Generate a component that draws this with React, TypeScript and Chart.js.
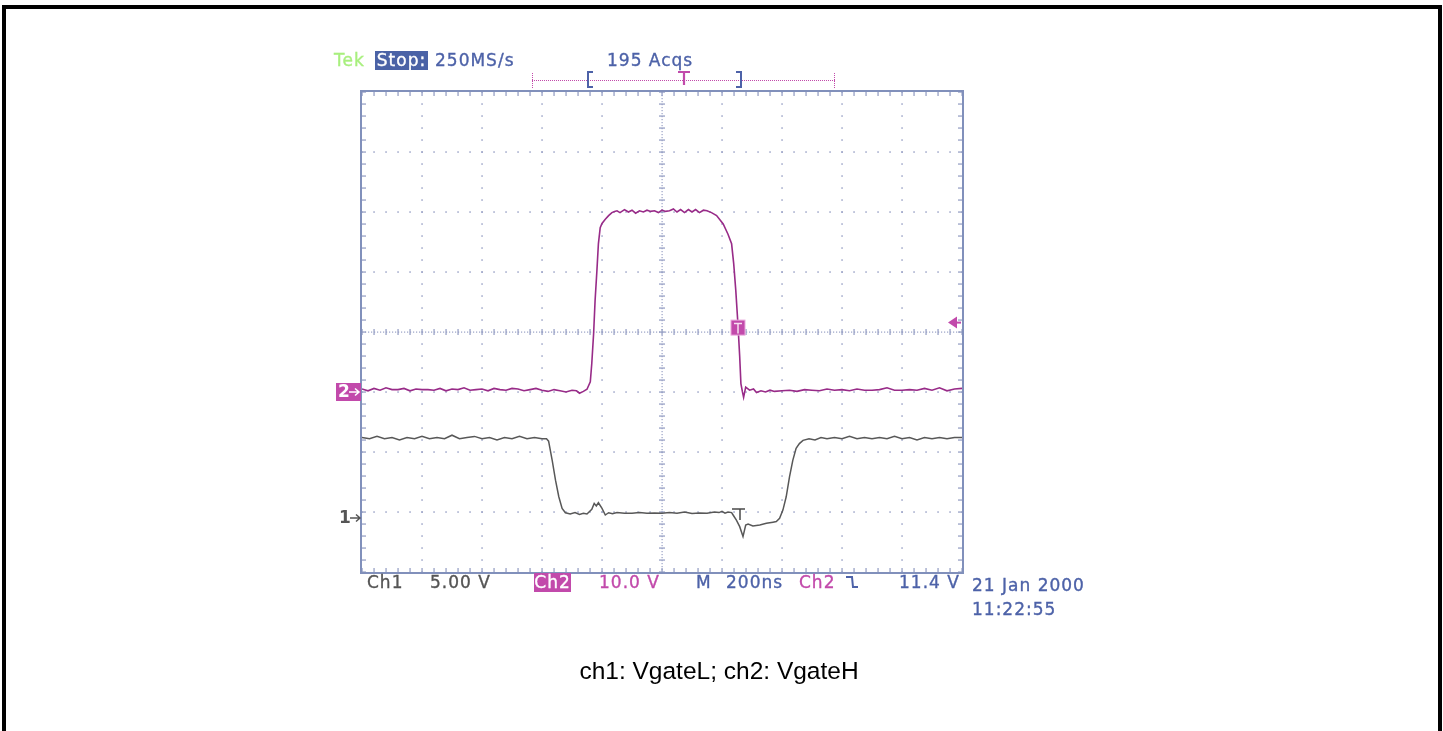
import React, { useEffect, useRef } from "react";
import { Chart, registerables } from "chart.js";

Chart.register(...registerables);

// ---- scope settings ----
const TIME_PER_DIV = 200; // ns
const H_DIVS = 10;
const V_DIVS = 8;
const CH1_VOLTS_PER_DIV = 5;
const CH1_GROUND_DIV = -3.1;
const CH2_VOLTS_PER_DIV = 10;
const CH2_GROUND_DIV = -1;
const TRIGGER_TIME = 250; // ns
const TRIGGER_LEVEL = 11.4; // V

// ---- Ch1 (VgateL) ----
const CH1_TIME = [
  -1000, -975, -950, -925, -900, -875, -850, -825, -800, -775, -750, -725, -700, -675, -650, -625, -600, -575, -550, -525,
  -500, -475, -450, -425, -400, -385, -378, -366, -355, -344, -333, -322, -306, -290, -275, -262, -250, -234, -226, -219,
  -212, -200, -189, -178, -165, -150, -125, -100, -75, -50, -25, 0, 25, 50, 75, 100, 125, 150, 175, 190,
  200, 210, 220, 232, 237, 248, 259, 270, 279, 287, 303, 326, 348, 370, 381, 392, 403, 414, 425, 436,
  447, 458, 470, 490, 510, 530, 550, 575, 600, 625, 650, 675, 700, 725, 750, 775, 800, 825, 850, 875,
  900, 925, 950, 975, 1000,
];
const CH1_VOLTS = [
  6.7, 6.6, 6.8, 6.6, 6.7, 6.5, 6.7, 6.6, 6.8, 6.6, 6.7, 6.6, 6.9, 6.6, 6.7, 6.8, 6.6, 6.7, 6.5, 6.7,
  6.6, 6.8, 6.6, 6.7, 6.6, 6.6, 6.4, 4.8, 3.15, 1.77, 0.8, 0.44, 0.33, 0.45, 0.3, 0.4, 0.33, 0.72, 1.22, 1.0,
  1.27, 0.8, 0.25, 0.44, 0.35, 0.45, 0.4, 0.4, 0.45, 0.4, 0.42, 0.4, 0.45, 0.4, 0.5, 0.38, 0.42, 0.4, 0.5, 0.45,
  0.55, 0.4, 0.5, 0.45, 0.25, -0.17, -0.72, -1.55, -0.58, -0.5, -0.66, -0.58, -0.44, -0.35, -0.3, -0.03, 0.66, 1.77, 3.43, 4.8,
  5.8, 6.2, 6.47, 6.6, 6.5, 6.7, 6.6, 6.7, 6.6, 6.8, 6.6, 6.7, 6.6, 6.7, 6.6, 6.8, 6.6, 6.7, 6.5, 6.7,
  6.6, 6.7, 6.6, 6.7, 6.7,
];

// ---- Ch2 (VgateH) ----
const CH2_TIME = [
  -1000, -980, -960, -940, -920, -900, -880, -860, -840, -820, -800, -780, -760, -740, -720, -700, -680, -660, -640, -620,
  -600, -580, -560, -540, -520, -500, -480, -460, -440, -420, -400, -380, -360, -340, -320, -300, -285, -275, -262, -250,
  -239, -234, -228, -223, -217, -212, -206, -200, -189, -178, -167, -158, -150, -140, -125, -112, -100, -88, -75, -62,
  -50, -38, -25, -12, 0, 12, 25, 38, 50, 62, 75, 88, 100, 112, 125, 138, 150, 165, 182, 204,
  220, 232, 239, 246, 253, 259, 263, 268, 272, 279, 292, 305, 315, 330, 345, 360, 375, 400, 425, 450,
  475, 500, 525, 550, 575, 600, 625, 650, 675, 700, 725, 750, 775, 800, 825, 850, 875, 900, 925, 950,
  975, 1000,
];
const CH2_VOLTS = [
  0.5, 0.2, 0.6, 0.3, 0.7, 0.4, 0.4, 0.6, 0.2, 0.5, 0.4, 0.4, 0.3, 0.6, 0.2, 0.5, 0.4, 0.7, 0.3, 0.4,
  0.5, 0.2, 0.6, 0.4, 0.3, 0.6, 0.5, 0.2, 0.4, 0.6, 0.3, 0.1, 0.4, 0.2, 0.0, 0.3, 0.2, -0.2, 0.1, 0.45,
  1.7, 4.8, 9.7, 15.3, 20.2, 24.7, 27.4, 28.1, 28.8, 29.4, 29.9, 30.1, 30.2, 29.9, 30.4, 30.0, 30.3, 29.8, 30.2, 30.0,
  30.3, 30.1, 30.2, 29.9, 30.3, 30.1, 30.2, 30.5, 30.0, 30.4, 29.9, 30.4, 30.0, 30.4, 29.9, 30.3, 30.2, 29.9, 29.4, 28.0,
  26.3, 24.7, 21.4, 16.9, 11.4, 5.9, 1.4, 0.05, -0.9, 0.8, 0.3, 0.5, -0.1, 0.2, 0.0, 0.3, 0.1, 0.2, 0.3, 0.1,
  0.4, 0.3, 0.2, 0.5, 0.3, 0.4, 0.2, 0.5, 0.3, 0.3, 0.4, 0.7, 0.3, 0.3, 0.4, 0.3, 0.6, 0.3, 0.7, 0.2,
  0.5, 0.6,
];

// ---- colours ----
const CH1_COLOR = "#585858";
const CH2_COLOR = "#982b88";
const MAGENTA = "#c24aab";
const BLUE = "#4d62a8";
const GRID_COLOR = "#99a2c6";
const BORDER_COLOR = "#8190bb";

const SCOPE_FONT = "'DejaVu Sans', sans-serif";

function drawArrow(ctx: any, x0: number, x1: number, y: number) {
  ctx.beginPath();
  ctx.moveTo(x0, y);
  ctx.lineTo(x1 - 1, y);
  ctx.moveTo(x1 - 4, y - 3.5);
  ctx.lineTo(x1, y);
  ctx.lineTo(x1 - 4, y + 3.5);
  ctx.stroke();
}

const scopePlugin = {
  id: "scopeDecor",
  beforeDatasetsDraw(chart: any) {
    const { ctx, chartArea } = chart;
    const { left, top, right, bottom } = chartArea;
    const dx = (right - left) / H_DIVS;
    const dy = (bottom - top) / V_DIVS;
    const mx = dx / 5;
    const my = dy / 5;
    const cx = left + (dx * H_DIVS) / 2;
    const cy = top + (dy * V_DIVS) / 2;
    ctx.save();
    ctx.fillStyle = GRID_COLOR;
    const dot = (x: number, y: number) => ctx.fillRect(x - 0.6, y - 0.8, 1.3, 1.7);
    // major grid lines as dots
    for (let i = 1; i < H_DIVS; i++) {
      if (i === H_DIVS / 2) continue;
      const x = left + i * dx;
      for (let k = 0; k <= V_DIVS * 5; k++) dot(x, top + k * my);
    }
    for (let j = 1; j < V_DIVS; j++) {
      if (j === V_DIVS / 2) continue;
      const y = top + j * dy;
      for (let k = 0; k <= H_DIVS * 5; k++) dot(left + k * mx, y);
    }
    // centre cross (dotted with ticks)
    for (let y = top; y <= bottom; y += 3) ctx.fillRect(cx - 0.5, y, 1.2, 1.2);
    for (let x = left; x <= right; x += 3) ctx.fillRect(x, cy - 0.5, 1.2, 1.2);
    for (let k = 0; k <= H_DIVS * 5; k++) ctx.fillRect(left + k * mx - 0.6, cy - 3, 1.3, 6);
    for (let k = 0; k <= V_DIVS * 5; k++) ctx.fillRect(cx - 3, top + k * my - 0.6, 6, 1.3);
    // border ticks
    for (let k = 0; k <= H_DIVS * 5; k++) {
      const x = left + k * mx;
      ctx.fillRect(x - 0.6, top, 1.3, 4);
      ctx.fillRect(x - 0.6, bottom - 4, 1.3, 4);
    }
    for (let k = 0; k <= V_DIVS * 5; k++) {
      const y = top + k * my;
      ctx.fillRect(left, y - 0.6, 4, 1.3);
      ctx.fillRect(right - 4, y - 0.6, 4, 1.3);
    }
    // screen border
    ctx.strokeStyle = BORDER_COLOR;
    ctx.lineWidth = 2;
    ctx.strokeRect(left - 1, top - 1, right - left + 2, bottom - top + 2);

    // record-length bar above the screen
    ctx.fillStyle = MAGENTA;
    const barY = top - 12;
    const barL = left + 170;
    const barR = left + 472;
    for (let x = barL; x <= barR; x += 2) ctx.fillRect(x, barY, 1, 1);
    for (let y = barY - 7; y <= barY + 7; y += 2) {
      ctx.fillRect(barL, y, 1, 1);
      ctx.fillRect(barR, y, 1, 1);
    }
    ctx.strokeStyle = BLUE;
    ctx.lineWidth = 2;
    ctx.beginPath();
    ctx.moveTo(left + 231, barY - 8);
    ctx.lineTo(left + 226, barY - 8);
    ctx.lineTo(left + 226, barY + 7);
    ctx.lineTo(left + 231, barY + 7);
    ctx.moveTo(left + 374, barY - 8);
    ctx.lineTo(left + 379, barY - 8);
    ctx.lineTo(left + 379, barY + 7);
    ctx.lineTo(left + 374, barY + 7);
    ctx.stroke();
    ctx.strokeStyle = MAGENTA;
    ctx.lineWidth = 2.2;
    ctx.beginPath();
    ctx.moveTo(left + 316, barY - 8);
    ctx.lineTo(left + 328, barY - 8);
    ctx.moveTo(left + 322, barY - 8);
    ctx.lineTo(left + 322, barY + 5);
    ctx.stroke();

    // trigger slope symbol in the readout line
    ctx.strokeStyle = BLUE;
    ctx.lineWidth = 2;
    ctx.beginPath();
    ctx.moveTo(left + 484, bottom + 5);
    ctx.lineTo(left + 490, bottom + 5);
    ctx.lineTo(left + 491, bottom + 15);
    ctx.lineTo(left + 496, bottom + 15);
    ctx.stroke();
    ctx.restore();
  },
  afterDatasetsDraw(chart: any) {
    const { ctx, chartArea, scales } = chart;
    const { left, right } = chartArea;
    const xs = scales.x;
    const y1 = scales.y1;
    const y2 = scales.y2;
    ctx.save();
    ctx.font = `bold 17px ${SCOPE_FONT}`;
    ctx.textBaseline = "middle";
    ctx.lineWidth = 1.5;
    // channel ground markers
    const g1 = y1.getPixelForValue(0);
    ctx.fillStyle = "#555555";
    ctx.strokeStyle = "#555555";
    ctx.fillText("1", left - 23, g1 + 1);
    drawArrow(ctx, left - 12, left - 2, g1);
    const g2 = y2.getPixelForValue(0);
    ctx.fillStyle = MAGENTA;
    ctx.fillRect(left - 26, g2 - 9, 25, 18);
    ctx.fillStyle = "#ffffff";
    ctx.strokeStyle = "#ffffff";
    ctx.fillText("2", left - 24, g2 + 1);
    drawArrow(ctx, left - 13, left - 3, g2);

    // trigger marker on ch2
    const tx = xs.getPixelForValue(TRIGGER_TIME) + 1;
    const ty = y2.getPixelForValue(TRIGGER_LEVEL) + 4;
    ctx.fillStyle = MAGENTA;
    ctx.fillRect(tx - 7, ty - 7.5, 14, 15);
    ctx.strokeStyle = "#e9a8dc";
    ctx.lineWidth = 1;
    ctx.strokeRect(tx - 7, ty - 7.5, 14, 15);
    ctx.strokeStyle = "#f6e0f0";
    ctx.lineWidth = 1.5;
    ctx.beginPath();
    ctx.moveTo(tx - 4, ty - 4);
    ctx.lineTo(tx + 4, ty - 4);
    ctx.moveTo(tx, ty - 4);
    ctx.lineTo(tx, ty + 6);
    ctx.stroke();

    // trigger marker on ch1 trace
    const t1y = y1.getPixelForValue(0.75);
    ctx.strokeStyle = "#4a4a4a";
    ctx.lineWidth = 1.5;
    ctx.beginPath();
    ctx.moveTo(tx - 6, t1y);
    ctx.lineTo(tx + 7, t1y);
    ctx.moveTo(tx + 2, t1y);
    ctx.lineTo(tx + 2, t1y + 11);
    ctx.stroke();

    // trigger level arrow at right edge
    const ly = y2.getPixelForValue(TRIGGER_LEVEL) - 1;
    ctx.fillStyle = MAGENTA;
    ctx.beginPath();
    ctx.moveTo(right - 14, ly);
    ctx.lineTo(right - 5, ly - 6);
    ctx.lineTo(right - 5, ly + 6);
    ctx.closePath();
    ctx.fill();
    ctx.fillRect(right - 7, ly - 1, 6, 2);
    ctx.restore();
  },
};

function Label(props: { x: number; base: number; color: string; children: any; bg?: string; w?: number }) {
  const { x, base, color, children, bg, w } = props;
  const common: any = {
    position: "absolute",
    left: x,
    color,
    font: `17px ${SCOPE_FONT}`,
    letterSpacing: "1px",
    whiteSpace: "nowrap",
    WebkitTextStroke: `0.35px ${color}`,
  };
  if (bg) {
    return (
      <div style={{ ...common, top: base - 15, width: w, height: 19, background: bg, lineHeight: "19px", textAlign: "center" }}>
        {children}
      </div>
    );
  }
  return <div style={{ ...common, top: base - 14.4, lineHeight: "17px" }}>{children}</div>;
}

export default function App() {
  const canvasRef = useRef<HTMLCanvasElement | null>(null);

  useEffect(() => {
    if (!canvasRef.current) return;
    const ch1Min = (-V_DIVS / 2 - CH1_GROUND_DIV) * CH1_VOLTS_PER_DIV;
    const ch1Max = (V_DIVS / 2 - CH1_GROUND_DIV) * CH1_VOLTS_PER_DIV;
    const ch2Min = (-V_DIVS / 2 - CH2_GROUND_DIV) * CH2_VOLTS_PER_DIV;
    const ch2Max = (V_DIVS / 2 - CH2_GROUND_DIV) * CH2_VOLTS_PER_DIV;
    const half = (H_DIVS / 2) * TIME_PER_DIV;
    const chart = new Chart(canvasRef.current, {
      type: "line",
      data: {
        datasets: [
          {
            label: "ch1: VgateL",
            data: CH1_TIME.map((t, i) => ({ x: t, y: CH1_VOLTS[i] })),
            yAxisID: "y1",
            borderColor: CH1_COLOR,
            borderWidth: 1.5,
            pointRadius: 0,
            tension: 0,
          },
          {
            label: "ch2: VgateH",
            data: CH2_TIME.map((t, i) => ({ x: t, y: CH2_VOLTS[i] })),
            yAxisID: "y2",
            borderColor: CH2_COLOR,
            borderWidth: 1.6,
            pointRadius: 0,
            tension: 0,
          },
        ],
      },
      options: {
        animation: false,
        responsive: false,
        devicePixelRatio: 1,
        layout: { padding: { left: 362, right: 481, top: 92, bottom: 159 } },
        plugins: { legend: { display: false }, title: { display: false }, tooltip: { enabled: false } },
        events: [],
        scales: {
          x: { type: "linear", min: -half, max: half, display: false },
          y1: { type: "linear", min: ch1Min, max: ch1Max, display: false },
          y2: { type: "linear", min: ch2Min, max: ch2Max, display: false },
        },
      },
      plugins: [scopePlugin],
    });
    return () => chart.destroy();
  }, []);

  return (
    <div
      style={{
        position: "fixed",
        left: 0,
        top: 0,
        width: 1443,
        height: 731,
        overflow: "hidden",
        background: "#ffffff",
      }}
    >
      <div
        style={{
          position: "absolute",
          left: 2,
          top: 5,
          width: 1440,
          height: 760,
          border: "4px solid #000",
          boxSizing: "border-box",
        }}
      />
      <canvas ref={canvasRef} width={1443} height={731} style={{ position: "absolute", left: 0, top: 0, display: "block" }} />

      <Label x={334} base={66} color="#a8ef7e">Tek</Label>
      <Label x={375} base={66} color="#ffffff" bg="#4a62a6" w={53}>Stop:</Label>
      <Label x={435} base={66} color={BLUE}>250MS/s</Label>
      <Label x={607} base={66} color={BLUE}>195 Acqs</Label>

      <Label x={367} base={588} color="#555555">Ch1</Label>
      <Label x={430} base={588} color="#555555">5.00 V</Label>
      <Label x={534} base={588} color="#ffffff" bg={MAGENTA} w={37}>Ch2</Label>
      <Label x={599} base={588} color={MAGENTA}>10.0 V</Label>
      <Label x={696} base={588} color={BLUE}>M</Label>
      <Label x={726} base={588} color={BLUE}>200ns</Label>
      <Label x={799} base={588} color={MAGENTA}>Ch2</Label>
      <Label x={899} base={588} color={BLUE}>11.4 V</Label>
      <Label x={972} base={591} color={BLUE}>21 Jan 2000</Label>
      <Label x={972} base={615} color={BLUE}>11:22:55</Label>

      <div
        style={{
          position: "absolute",
          left: 0,
          top: 659,
          width: 1438,
          textAlign: "center",
          font: "24.5px 'Liberation Sans', Arial, sans-serif",
          lineHeight: "24.5px",
          color: "#000",
        }}
      >
        ch1: VgateL; ch2: VgateH
      </div>
    </div>
  );
}
